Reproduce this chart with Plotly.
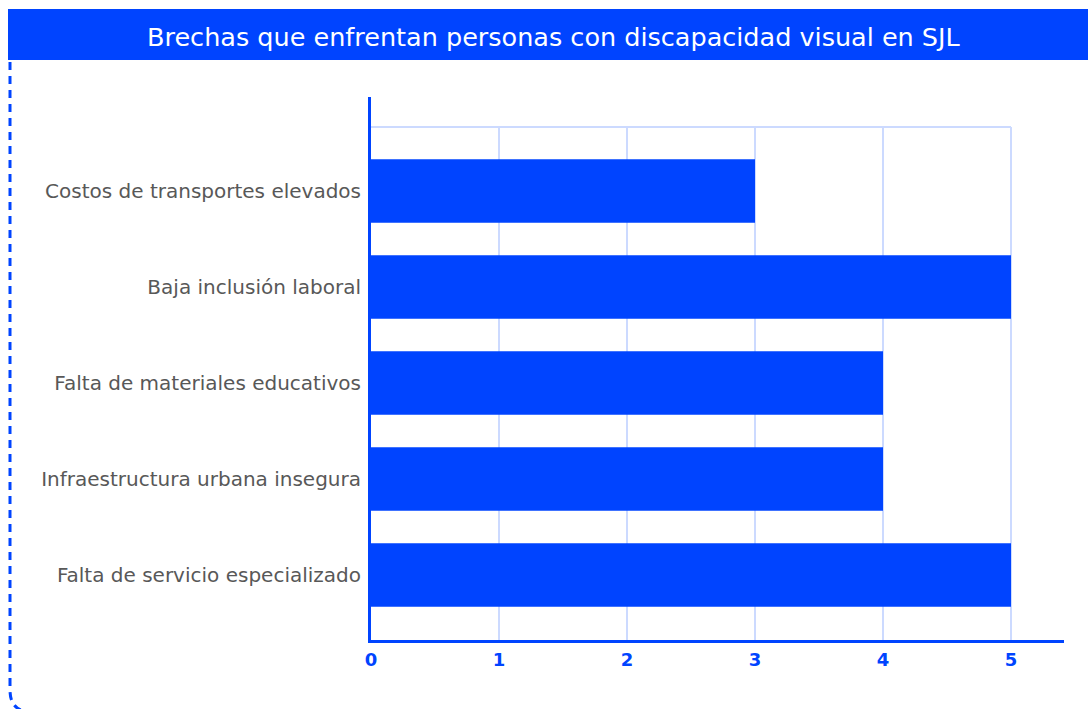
import plotly.graph_objects as go

# Data
categorias = [
    "Falta de servicio especializado",
    "Infraestructura urbana insegura",
    "Falta de materiales educativos",
    "Baja inclusión laboral",
    "Costos de transportes elevados",
]
valores = [5, 4, 4, 5, 3]
ticks_x = [0, 1, 2, 3, 4, 5]
titulo = "Brechas que enfrentan personas con discapacidad visual en SJL"

AZUL = "#0044FF"
GRID = "#CCDAFF"
FONT = "DejaVu Sans"

W, H = 1088, 709
ML, MR, MT, MB = 371, 24, 97, 69
PW, PH = W - ML - MR, H - MT - MB


def px(x):
    return (x - ML) / PW


def py(y):
    return (H - MB - y) / PH


fig = go.Figure()
fig.add_trace(go.Bar(
    x=valores,
    y=categorias,
    orientation="h",
    marker=dict(color=AZUL, line=dict(width=0)),
    width=0.66,
    hoverinfo="x+y",
))

y_lo, y_hi = -0.677, 4.979
grid_top = 4.667

shapes = []
# vertical grid lines stop at the top frame line
for v in ticks_x[1:]:
    shapes.append(dict(type="line", xref="x", yref="y", x0=v, x1=v, y0=y_lo, y1=grid_top,
                       line=dict(color=GRID, width=2), layer="below"))
# top frame line of the grid
shapes.append(dict(type="line", xref="x", yref="y", x0=0, x1=5, y0=grid_top, y1=grid_top,
                   line=dict(color=GRID, width=2), layer="below"))
# header band
shapes.append(dict(type="rect", xref="paper", yref="paper",
                   x0=px(8), x1=px(1095), y0=py(60), y1=py(9),
                   fillcolor=AZUL, line=dict(width=0), layer="above"))
# dashed frame on the left with rounded bottom corner
path = (f"M {px(10)},{py(62)} L {px(10)},{py(690)} "
        f"Q {px(10)},{py(712)} {px(32)},{py(712)} L {px(1100)},{py(712)}")
shapes.append(dict(type="path", xref="paper", yref="paper", path=path,
                   line=dict(color=AZUL, width=3, dash="8px,6px")))

fig.update_layout(
    width=W, height=H, autosize=False,
    margin=dict(l=ML, r=MR, t=MT, b=MB, pad=0),
    paper_bgcolor="white", plot_bgcolor="white",
    showlegend=False,
    bargap=0.34,
    shapes=shapes,
    annotations=[dict(
        text=titulo, xref="paper", yref="paper", x=px(554), y=py(37),
        xanchor="center", yanchor="middle", showarrow=False,
        font=dict(family=FONT, size=25.5, color="white"),
    )],
    xaxis=dict(
        range=[0, PW / 128], tickvals=ticks_x, ticktext=[str(t) for t in ticks_x],
        showgrid=False, zeroline=False,
        showline=True, linecolor=AZUL, linewidth=3,
        ticks="", ticklabelstandoff=1,
        tickfont=dict(family=FONT, size=18, color=AZUL, weight=600),
    ),
    yaxis=dict(
        type="category", categoryorder="array", categoryarray=categorias,
        range=[y_lo, y_hi], showgrid=False, zeroline=False,
        showline=True, linecolor=AZUL, linewidth=3,
        ticks="", ticklabelstandoff=3,
        tickfont=dict(family=FONT, size=20, color="#585858"),
    ),
)

fig.write_html("out.html")
